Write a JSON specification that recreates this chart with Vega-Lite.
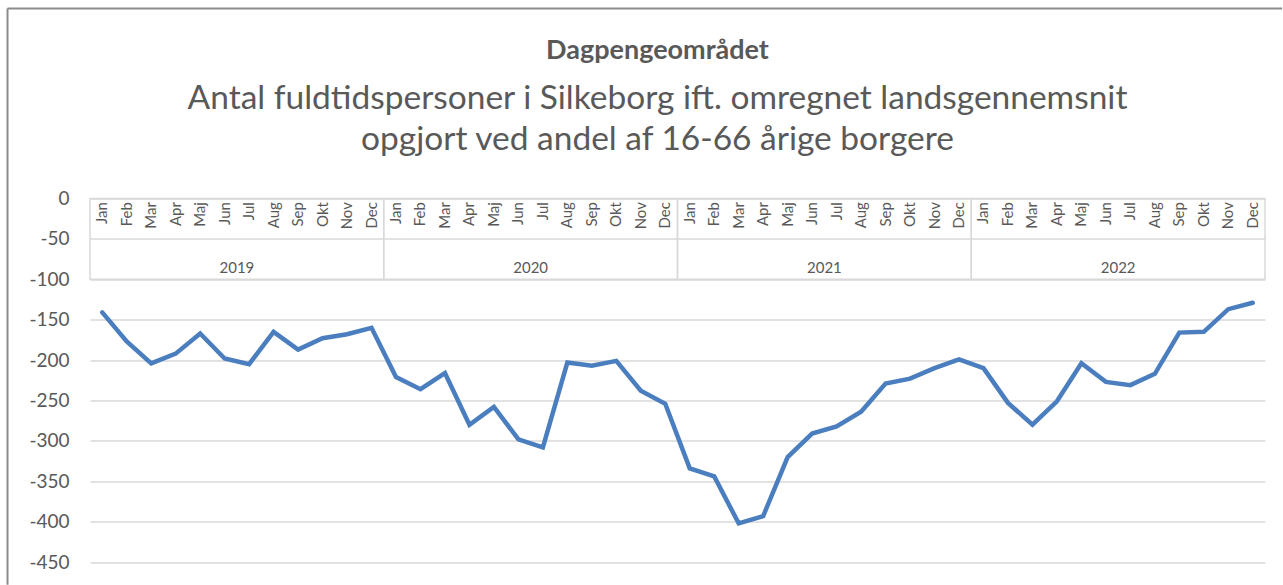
{
  "$schema": "https://vega.github.io/schema/vega-lite/v6.json",
  "width": 1175,
  "height": 363.6,
  "autosize": {"type": "none"},
  "padding": {"left": 90, "top": 198.5, "right": 18, "bottom": 23},
  "background": "white",
  "title": {
    "text": "Dagpengeområdet",
    "subtitle": ["Antal fuldtidspersoner i Silkeborg ift. omregnet landsgennemsnit", "opgjort ved andel af 16-66 årige borgere"],
    "anchor": "middle",
    "frame": "group",
    "dx": -20,
    "offset": -150,
    "font": "Lato",
    "fontSize": 27,
    "fontWeight": "bold",
    "color": "#595959",
    "subtitleFont": "Lato",
    "subtitleFontSize": 33.5,
    "subtitleColor": "#595959",
    "subtitleLineHeight": 41,
    "subtitlePadding": 18
  },
  "config": {
    "view": {"stroke": null},
    "font": "Lato",
    "axis": {"labelColor": "#595959", "labelFont": "Lato"}
  },
  "datasets": {
    "series": [
      {"year": 2019, "month": "Jan", "t": 0, "value": -141},
      {"year": 2019, "month": "Feb", "t": 1, "value": -177},
      {"year": 2019, "month": "Mar", "t": 2, "value": -204},
      {"year": 2019, "month": "Apr", "t": 3, "value": -192},
      {"year": 2019, "month": "Maj", "t": 4, "value": -167},
      {"year": 2019, "month": "Jun", "t": 5, "value": -198},
      {"year": 2019, "month": "Jul", "t": 6, "value": -205},
      {"year": 2019, "month": "Aug", "t": 7, "value": -165},
      {"year": 2019, "month": "Sep", "t": 8, "value": -187},
      {"year": 2019, "month": "Okt", "t": 9, "value": -173},
      {"year": 2019, "month": "Nov", "t": 10, "value": -168},
      {"year": 2019, "month": "Dec", "t": 11, "value": -160},
      {"year": 2020, "month": "Jan", "t": 12, "value": -221},
      {"year": 2020, "month": "Feb", "t": 13, "value": -236},
      {"year": 2020, "month": "Mar", "t": 14, "value": -216},
      {"year": 2020, "month": "Apr", "t": 15, "value": -280},
      {"year": 2020, "month": "Maj", "t": 16, "value": -258},
      {"year": 2020, "month": "Jun", "t": 17, "value": -298},
      {"year": 2020, "month": "Jul", "t": 18, "value": -308},
      {"year": 2020, "month": "Aug", "t": 19, "value": -203},
      {"year": 2020, "month": "Sep", "t": 20, "value": -207},
      {"year": 2020, "month": "Okt", "t": 21, "value": -201},
      {"year": 2020, "month": "Nov", "t": 22, "value": -238},
      {"year": 2020, "month": "Dec", "t": 23, "value": -254},
      {"year": 2021, "month": "Jan", "t": 24, "value": -334},
      {"year": 2021, "month": "Feb", "t": 25, "value": -344},
      {"year": 2021, "month": "Mar", "t": 26, "value": -402},
      {"year": 2021, "month": "Apr", "t": 27, "value": -393},
      {"year": 2021, "month": "Maj", "t": 28, "value": -320},
      {"year": 2021, "month": "Jun", "t": 29, "value": -291},
      {"year": 2021, "month": "Jul", "t": 30, "value": -282},
      {"year": 2021, "month": "Aug", "t": 31, "value": -264},
      {"year": 2021, "month": "Sep", "t": 32, "value": -229},
      {"year": 2021, "month": "Okt", "t": 33, "value": -223},
      {"year": 2021, "month": "Nov", "t": 34, "value": -210},
      {"year": 2021, "month": "Dec", "t": 35, "value": -199},
      {"year": 2022, "month": "Jan", "t": 36, "value": -210},
      {"year": 2022, "month": "Feb", "t": 37, "value": -253},
      {"year": 2022, "month": "Mar", "t": 38, "value": -280},
      {"year": 2022, "month": "Apr", "t": 39, "value": -251},
      {"year": 2022, "month": "Maj", "t": 40, "value": -204},
      {"year": 2022, "month": "Jun", "t": 41, "value": -227},
      {"year": 2022, "month": "Jul", "t": 42, "value": -231},
      {"year": 2022, "month": "Aug", "t": 43, "value": -217},
      {"year": 2022, "month": "Sep", "t": 44, "value": -166},
      {"year": 2022, "month": "Okt", "t": 45, "value": -165},
      {"year": 2022, "month": "Nov", "t": 46, "value": -137},
      {"year": 2022, "month": "Dec", "t": 47, "value": -129}
    ],
    "years": [
      {"year": 2019, "first": 0, "last": 11},
      {"year": 2020, "first": 12, "last": 23},
      {"year": 2021, "first": 24, "last": 35},
      {"year": 2022, "first": 36, "last": 47}
    ]
  },
  "layer": [
    {
      "data": {"name": "series"},
      "mark": {"type": "line", "color": "#4a7ebf", "strokeWidth": 4.5, "strokeJoin": "miter", "strokeCap": "round"},
      "encoding": {
        "x": {
          "field": "t",
          "type": "quantitative",
          "scale": {"domain": [-0.5, 47.5], "nice": false, "zero": false},
          "axis": null
        },
        "y": {
          "field": "value",
          "type": "quantitative",
          "scale": {"domain": [-450, 0], "nice": false},
          "axis": {
            "title": null,
            "values": [0, -50, -100, -150, -200, -250, -300, -350, -400, -450],
            "labelExpr": "'' + datum.value",
            "labelFontSize": 19,
            "labelPadding": 21,
            "domain": false,
            "ticks": false,
            "grid": true,
            "gridColor": "#d9d9d9",
            "gridWidth": 1.5
          }
        }
      }
    },
    {
      "data": {"values": [{"frame": "left border"}]},
      "mark": {"type": "rule", "stroke": "#8c8c8c", "strokeWidth": 2, "clip": false},
      "encoding": {
        "x": {"datum": -3.87, "type": "quantitative"},
        "y": {"datum": 235.1, "type": "quantitative"},
        "y2": {"datum": -478}
      }
    },
    {
      "data": {"values": [{"frame": "top border"}]},
      "mark": {"type": "rule", "stroke": "#8c8c8c", "strokeWidth": 2, "clip": false},
      "encoding": {
        "x": {"datum": -3.87, "type": "quantitative"},
        "x2": {"datum": 48.2},
        "y": {"datum": 235.1, "type": "quantitative"}
      }
    },
    {
      "data": {"name": "series"},
      "mark": {"type": "text", "fontSize": 15, "color": "#595959", "angle": 270, "align": "right", "baseline": "middle"},
      "encoding": {
        "x": {"field": "t", "type": "quantitative"},
        "y": {"datum": -4.5, "type": "quantitative"},
        "text": {"field": "month", "type": "nominal"}
      }
    },
    {
      "data": {"name": "years"},
      "transform": [
        {"calculate": "datum.first - 0.5", "as": "start"},
        {"calculate": "datum.last + 0.5", "as": "end"}
      ],
      "mark": {"type": "rect", "fill": null, "stroke": "#d9d9d9", "strokeWidth": 1.5},
      "encoding": {
        "x": {"field": "start", "type": "quantitative"},
        "x2": {"field": "end"},
        "y": {"datum": 0, "type": "quantitative"},
        "y2": {"datum": -100}
      }
    },
    {
      "data": {"name": "years"},
      "transform": [
        {"calculate": "(datum.first + datum.last) / 2", "as": "mid"}
      ],
      "mark": {"type": "text", "fontSize": 15, "color": "#595959", "baseline": "middle", "align": "center"},
      "encoding": {
        "x": {"field": "mid", "type": "quantitative"},
        "y": {"datum": -86, "type": "quantitative"},
        "text": {"field": "year", "type": "nominal"}
      }
    }
  ]
}
